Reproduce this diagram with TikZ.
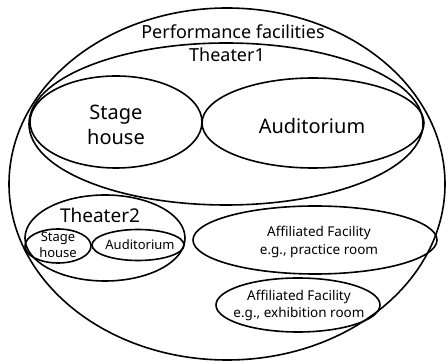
\documentclass[tikz,border=0pt]{standalone}
\usepackage{fontspec}
\setmainfont{Noto Sans}
\usetikzlibrary{shapes.geometric}
\tikzset{
  ell/.style={draw, line width=1.6pt, ellipse, inner sep=0pt},
  lbl/.style={align=center, inner sep=0pt, font=#1},
}
\begin{document}
\begin{tikzpicture}[x=1pt, y=-1pt]
\useasboundingbox (0,0) rectangle (448,363);
% ellipses
\node[ell, minimum width=436pt, minimum height=352pt] (outer) at (227,184) {};
\node[ell, minimum width=394pt, minimum height=162pt] (th1) at (226,124) {};
\node[ell, minimum width=172pt, minimum height=92pt] (sh1) at (116,122) {};
\node[ell, minimum width=222pt, minimum height=90pt] (au1) at (313,123) {};
\node[ell, minimum width=160pt, minimum height=86pt] (th2) at (105,238) {};
\node[ell, minimum width=66pt, minimum height=34pt] (sh2) at (58,246) {};
\node[ell, minimum width=92pt, minimum height=31pt] (au2) at (138,245) {};
\node[ell, minimum width=244pt, minimum height=68pt] (af1) at (315,240) {};
\node[ell, minimum width=164pt, minimum height=54pt] (af2) at (298,305) {};
% labels
\node[lbl={\fontsize{18}{20}\selectfont}] (tpf) at (233,32) {Performance facilities};
\node[lbl={\fontsize{18}{20}\selectfont}] (tth1) at (227,55) {Theater1};
\node[lbl={\fontsize{20}{25}\selectfont}] (tsh1) at (116,125) {Stage\\house};
\node[lbl={\fontsize{20}{24}\selectfont}] (tau1) at (312,126) {Auditorium};
\node[lbl={\fontsize{19}{22}\selectfont}] (tth2) at (100,215) {Theater2};
\node[lbl={\fontsize{13}{16}\selectfont}] (tsh2) at (58,245) {Stage\\house};
\node[lbl={\fontsize{13}{16}\selectfont}] (tau2) at (140,245) {Auditorium};
\node[lbl={\fontsize{13.5}{18}\selectfont}] (taf1) at (319,242) {Affiliated Facility\\e.g., practice room};
\node[lbl={\fontsize{13.5}{17}\selectfont}] (taf2) at (299,305) {Affiliated Facility\\e.g., exhibition room};
\end{tikzpicture}
\end{document}
